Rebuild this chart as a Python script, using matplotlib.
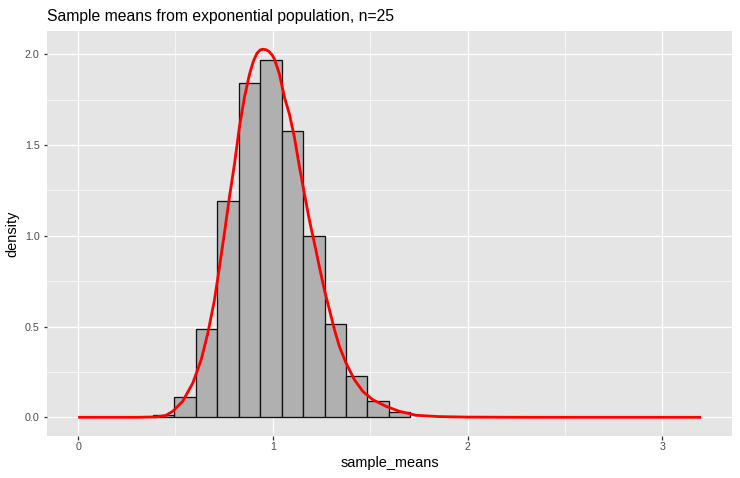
import matplotlib
matplotlib.use("Agg")
import matplotlib.pyplot as plt

plt.rcParams['font.family'] = ['Liberation Sans', 'DejaVu Sans']

# histogram bins (density scale)
bin_width = 0.1103
bin_left = [0.383 + i * bin_width for i in range(12)]
bin_height = [0.012, 0.110, 0.485, 1.193, 1.844, 1.970,
              1.577, 0.999, 0.514, 0.229, 0.090, 0.030]

# red density curve
curve_x = [0.0, 0.30, 0.40, 0.45, 0.486, 0.537, 0.589, 0.632, 0.666, 0.700,
           0.726, 0.751, 0.777, 0.803, 0.828, 0.854, 0.880, 0.900, 0.918,
           0.935, 0.950, 0.965, 0.980, 0.995, 1.008, 1.034, 1.060, 1.085,
           1.111, 1.137, 1.162, 1.188, 1.214, 1.239, 1.265, 1.291, 1.317,
           1.342, 1.376, 1.419, 1.462, 1.513, 1.582, 1.650, 1.736, 1.85,
           2.0, 2.3, 3.2]
curve_y = [0.0, 0.0, 0.002, 0.010, 0.033, 0.088, 0.189, 0.317, 0.463, 0.646,
           0.829, 1.012, 1.213, 1.396, 1.597, 1.762, 1.890, 1.962, 2.005,
           2.024, 2.028, 2.025, 2.016, 1.998, 1.975, 1.890, 1.762, 1.671,
           1.542, 1.378, 1.232, 1.085, 0.957, 0.829, 0.701, 0.591, 0.481,
           0.390, 0.299, 0.207, 0.143, 0.097, 0.060, 0.033, 0.011, 0.004,
           0.001, 0.0, 0.0]

x_ticks = [0, 1, 2, 3]
y_ticks = [0.0, 0.5, 1.0, 1.5, 2.0]

#%% figure, ggplot grey theme look

W, H = 740, 478
fig = plt.figure(figsize=(W / 72, H / 72), dpi=72)
px_l, px_r, px_t, px_b = 47, 732.3, 31, 435.7
ax = fig.add_axes([px_l / W, 1 - px_b / H, (px_r - px_l) / W, (px_b - px_t) / H])
ax.set_facecolor('#e5e5e5')
for s in ax.spines.values():
    s.set_visible(False)

ax.set_xlim(-0.16, 3.36)
ax.set_ylim(-0.1014, 2.1284)

# grid
for v in [0.5, 1.5, 2.5]:
    ax.axvline(v, color='white', lw=0.65, zorder=0)
for v in [0.25, 0.75, 1.25, 1.75]:
    ax.axhline(v, color='white', lw=0.65, zorder=0)
for v in x_ticks:
    ax.axvline(v, color='white', lw=1.3, zorder=0)
for v in y_ticks:
    ax.axhline(v, color='white', lw=1.3, zorder=0)

ax.bar(bin_left, bin_height, width=bin_width, align='edge',
       color='#b0b0b0', edgecolor='#111111', linewidth=1.3, zorder=2)
ax.plot(curve_x, curve_y, color='red', lw=2.8, zorder=3,
        solid_capstyle='butt', solid_joinstyle='round')

ax.set_xticks(x_ticks)
ax.set_xticklabels([str(v) for v in x_ticks])
ax.set_yticks(y_ticks)
ax.set_yticklabels(['%.1f' % v for v in y_ticks])
ax.tick_params(length=3.5, width=1.3, color='#333333', labelcolor='#4d4d4d',
               labelsize=10.6)
ax.tick_params(axis='x', pad=3)
ax.tick_params(axis='y', pad=4)

# axis titles and title placed where the reference has them
fig.text((px_l + px_r) / 2 / W, 1 - 466.7 / H, 'sample_means',
         fontsize=14.5, ha='center', va='baseline')
fig.text(12.5 / W, 1 - 234.2 / H, 'density', fontsize=14.5,
         rotation=90, ha='center', va='center')
fig.text(px_l / W, 1 - 21 / H, 'Sample means from exponential population, n=25',
         fontsize=15.8, ha='left', va='baseline')

fig.savefig('out.png', dpi=72)
